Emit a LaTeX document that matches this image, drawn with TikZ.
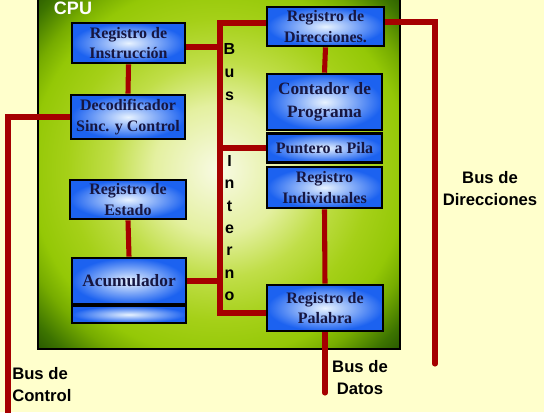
\documentclass[tikz,border=0pt]{standalone}
\usepackage{fontspec}
\setmainfont{Liberation Serif}
\newfontfamily\labfont{Liberation Sans}
\definecolor{bgyel}{RGB}{255,255,204}
\definecolor{busred}{RGB}{165,0,0}
\definecolor{boxblue}{RGB}{28,98,240}
\definecolor{boxlight}{RGB}{232,243,255}
\definecolor{txtnavy}{RGB}{22,22,65}
\definecolor{gA}{RGB}{248,250,228}
\definecolor{gB}{RGB}{228,240,160}
\definecolor{gC}{RGB}{192,222,72}
\definecolor{gD}{RGB}{165,208,24}
\definecolor{gE}{RGB}{148,200,6}
\definecolor{gM}{RGB}{118,172,0}
\definecolor{gF}{RGB}{60,115,0}
\definecolor{gG}{RGB}{18,60,0}
\pgfdeclareradialshading{cpushade}{\pgfpoint{0bp}{0bp}}{color(0bp)=(gA); color(9bp)=(gB); color(15bp)=(gC); color(21bp)=(gD); color(26bp)=(gE); color(29bp)=(gM); color(33bp)=(gF); color(38bp)=(gG); color(50bp)=(gG)}
\newcommand\pxu{*0.75pt}
\tikzset{
  box/.style={draw=black, line width=2pt, inner color=boxlight, outer color=boxblue,
    text=txtnavy, align=center, inner sep=0pt,
    font=\bfseries\fontsize{12}{15.5}\selectfont},
  bigbox/.style={box, font=\bfseries\fontsize{13}{17}\selectfont},
  bus/.style={draw=busred, line width=3.8pt},
  lab/.style={font=\labfont\bfseries\fontsize{12.5}{16.5}\selectfont, text=black, inner sep=0pt},
  busch/.style={font=\labfont\bfseries\fontsize{12}{12}\selectfont, text=black, inner sep=0pt, anchor=base}
}
\begin{document}
\begin{tikzpicture}[x=0.75pt, y=-0.75pt]
\useasboundingbox (0,0) rectangle (544,412);
\clip (0,0) rectangle (544,412);
\fill[bgyel] (0,0) rectangle (544,412);
% CPU block
\path[shading=cpushade, draw=black, line width=1.5pt] (38,-10) rectangle (400,349);
\node[font=\labfont\bfseries\fontsize{13.5}{14}\selectfont, text=white, inner sep=0pt] (cpu) at (73,8.5) {CPU};

% boxes (placed first to define anchors)
\path node[box, minimum width=113\pxu, minimum height=40\pxu] (ri) at (128.5,43) {Registro de\\Instrucción}
      node[box, minimum width=114\pxu, minimum height=44\pxu] (dec) at (128,117) {Decodificador\\Sinc. y Control}
      node[box, minimum width=116\pxu, minimum height=39\pxu] (est) at (128,199.5) {Registro de\\Estado}
      node[bigbox, minimum width=114\pxu, minimum height=46\pxu] (acu) at (129,281) {Acumulador}
      node[box, minimum width=114\pxu, minimum height=17\pxu] (acub) at (129,314.5) {}
      node[box, minimum width=117\pxu, minimum height=39\pxu] (dir) at (325.5,26.5) {Registro de\\Direcciones.}
      node[bigbox, minimum width=115\pxu, minimum height=56\pxu] (cp) at (324.5,102) {Contador de\\Programa}
      node[box, minimum width=115\pxu, minimum height=29\pxu] (pp) at (324.5,148) {Puntero a Pila}
      node[box, minimum width=115\pxu, minimum height=41\pxu] (ind) at (324.5,187.5) {Registro\\Individuales}
      node[box, minimum width=116\pxu, minimum height=46\pxu] (pal) at (325,308) {Registro de\\Palabra};

% bus coordinates
\coordinate (bt) at (220,23);
\coordinate (bb) at (220,313);
\coordinate (ctl) at (8,117);
\coordinate (ctlend) at (8,420);
\coordinate (dirc) at (435,22);
\coordinate (dirend) at (435,364);
\coordinate (datend) at (325,393);

% internal bus
\draw[bus] (dir.west |- bt) -- (bt) -- (bb) -- (pal.west |- bb);
\draw[bus] (ri.east |- 0,47) -- (bt |- 0,47);
\draw[bus] (pp.west) -- (pp.west -| bt);
\draw[bus] (acu.east) -- (acu.east -| bt);
% vertical links
\draw[bus] (ri.south) -- (dec.north);
\draw[bus] (est.south) -- (acu.north);
\draw[bus] (dir.south) -- (cp.north);
\draw[bus] (ind.south) -- (pal.north);
% external buses
\draw[bus] (dec.west) -- (ctl) -- (ctlend);
\draw[bus, line cap=round] (dir.east |- dirc) -- (dirc) -- (dirend);
\draw[bus, line cap=round] (pal.south) -- (datend);
% boxes drawn again over the line ends
\node[box, minimum width=113\pxu, minimum height=40\pxu] (ri2) at (ri) {Registro de\\Instrucción};
\node[box, minimum width=114\pxu, minimum height=44\pxu] (dec2) at (dec) {Decodificador\\Sinc. y Control};
\node[box, minimum width=116\pxu, minimum height=39\pxu] (est2) at (est) {Registro de\\Estado};
\node[bigbox, minimum width=114\pxu, minimum height=46\pxu] (acu2) at (acu) {Acumulador};
\node[box, minimum width=114\pxu, minimum height=17\pxu] (acub2) at (acub) {};
\node[box, minimum width=117\pxu, minimum height=39\pxu] (dir2) at (dir) {Registro de\\Direcciones.};
\node[bigbox, minimum width=115\pxu, minimum height=56\pxu] (cp2) at (cp) {Contador de\\Programa};
\node[box, minimum width=115\pxu, minimum height=29\pxu] (pp2) at (pp) {Puntero a Pila};
\node[box, minimum width=115\pxu, minimum height=41\pxu] (ind2) at (ind) {Registro\\Individuales};
\node[box, minimum width=116\pxu, minimum height=46\pxu] (pal2) at (pal) {Registro de\\Palabra};

% vertical bus text
\node[busch] (b1) at (229.5,54) {B};
\node[busch] (b2) at (229.5,77) {u};
\node[busch] (b3) at (229.5,100) {s};
\node[busch] (i1) at (229.5,166) {I};
\node[busch] (i2) at (229.5,188.5) {n};
\node[busch] (i3) at (229.5,211) {t};
\node[busch] (i4) at (229.5,233) {e};
\node[busch] (i5) at (229.5,255.5) {r};
\node[busch] (i6) at (229.5,278) {n};
\node[busch] (i7) at (229.5,300) {o};

% labels
\node[lab, align=center] (ldir) at (490,189) {Bus de\\Direcciones};
\node[lab, align=center] (ldat) at (360,378) {Bus de\\Datos};
\node[lab, align=left, anchor=west] (lctl) at (12,385) {Bus de\\Control};
\end{tikzpicture}
\end{document}
